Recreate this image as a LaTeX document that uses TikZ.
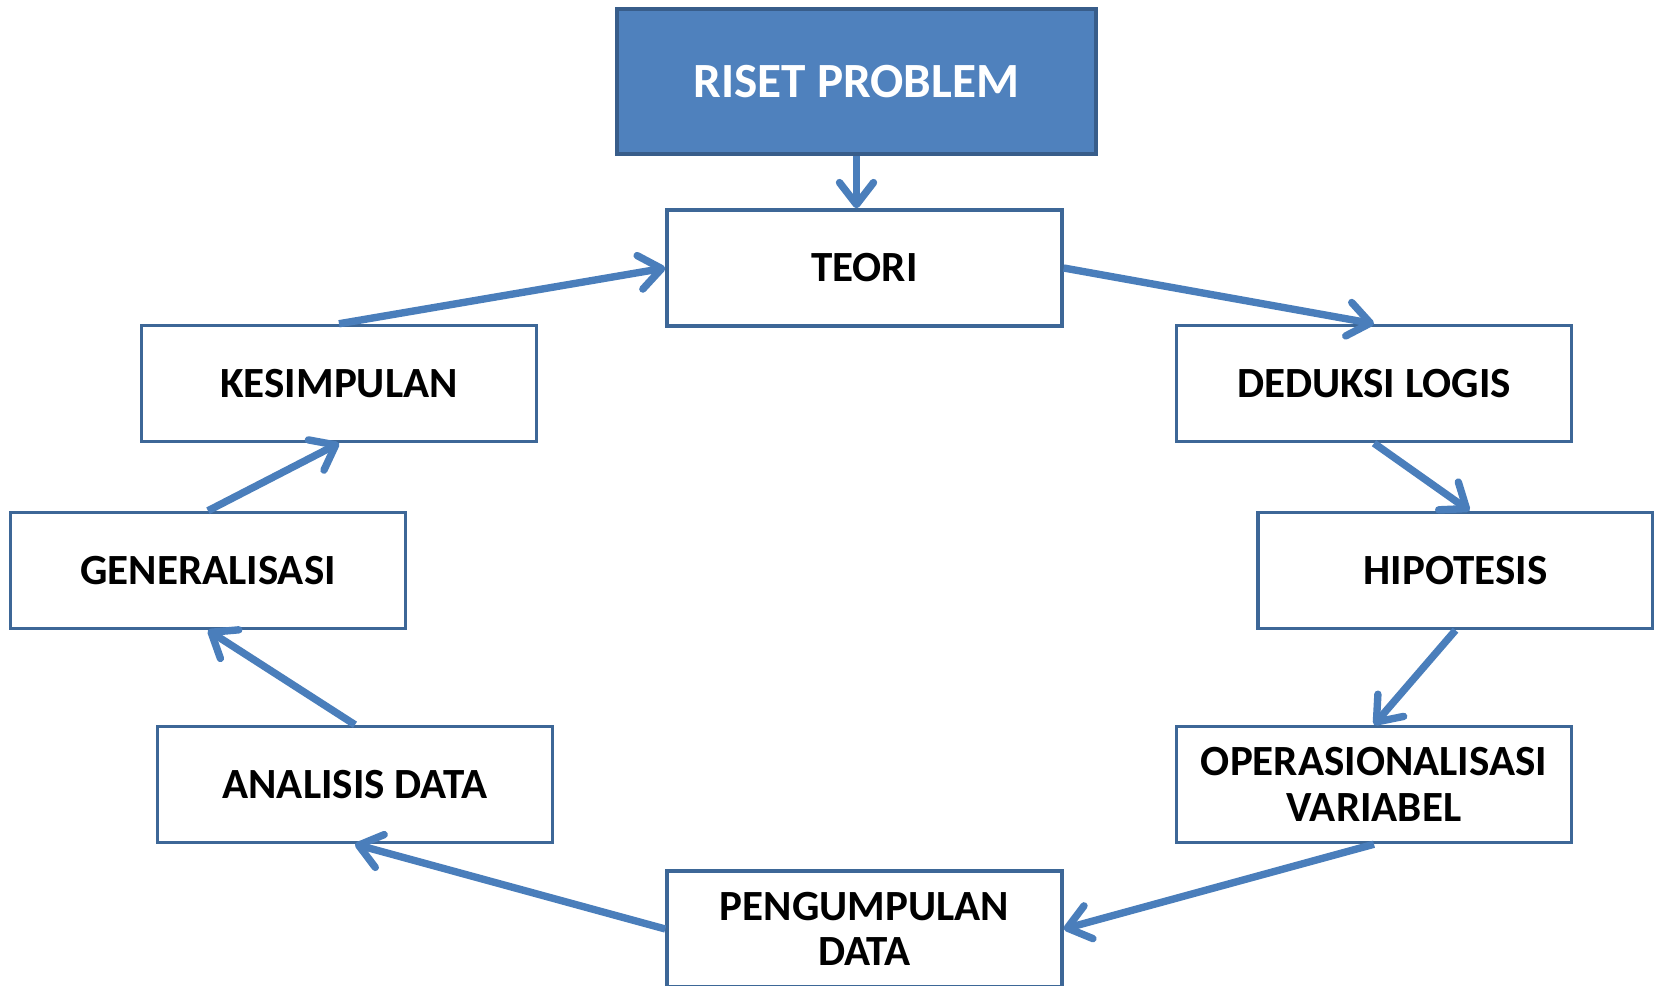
\documentclass[tikz,border=0pt]{standalone}
\usepackage{fontspec}
\setmainfont{Carlito}
\usepackage{tikz}
\usetikzlibrary{arrows.meta}
\definecolor{flowblue}{HTML}{4A7EBB}
\definecolor{edgeblue}{HTML}{3D6797}
\definecolor{topfill}{HTML}{4F81BD}
\definecolor{topedge}{HTML}{385D8A}
\tikzset{box/.style={rectangle, draw=edgeblue, line width=2pt, fill=white, minimum width=7.9cm, minimum height=2.32cm, align=center, font=\bfseries\fontsize{24.5}{26}\selectfont}}
\tikzset{top/.style={box, draw=topedge, fill=topfill, text=white, minimum width=9.58cm, minimum height=2.9cm, font=\bfseries\fontsize{28}{30}\selectfont}}
\tikzset{flow/.style={draw=flowblue, line width=4.2pt, -{Straight Barb[length=4.4mm, width=6.8mm, round]}}}

\begin{document}
\begin{tikzpicture}[x=0.02cm, y=-0.02cm]
            \useasboundingbox (0,0) rectangle (1654,986);
            \node[top] (riset) at (856.5,81.5) {RISET PROBLEM};
            \node[box] (teori) at (864.5,268) {TEORI};
            \node[box] (kesimpulan) at (339,383.5) {KESIMPULAN};
            \node[box] (deduksi) at (1374,383.5) {DEDUKSI LOGIS};
            \node[box] (generalisasi) at (208,570.5) {GENERALISASI};
            \node[box] (hipotesis) at (1455.5,570.5) {HIPOTESIS};
            \node[box] (analisis) at (355,784.5) {ANALISIS DATA};
            \node[box] (operasional) at (1374,784.5) {OPERASIONALISASI\\VARIABEL};
            \node[box] (pengumpulan) at (864.5,929) {PENGUMPULAN\\DATA};

            \draw[flow] (riset.south) -- (riset.south |- teori.north);
            \draw[flow] (teori.east) -- (deduksi.north);
            \draw[flow] (deduksi.south) -- ([xshift=0.28cm]hipotesis.north);
            \draw[flow] (hipotesis.south) -- (operasional.north);
            \draw[flow] (operasional.south) -- (pengumpulan.east);
            \draw[flow] (pengumpulan.west) -- (analisis.south);
            \draw[flow] (analisis.north) -- (generalisasi.south);
            \draw[flow] (generalisasi.north) -- (kesimpulan.south);
            \draw[flow] (kesimpulan.north) -- (teori.west);
        \end{tikzpicture}
\end{document}
